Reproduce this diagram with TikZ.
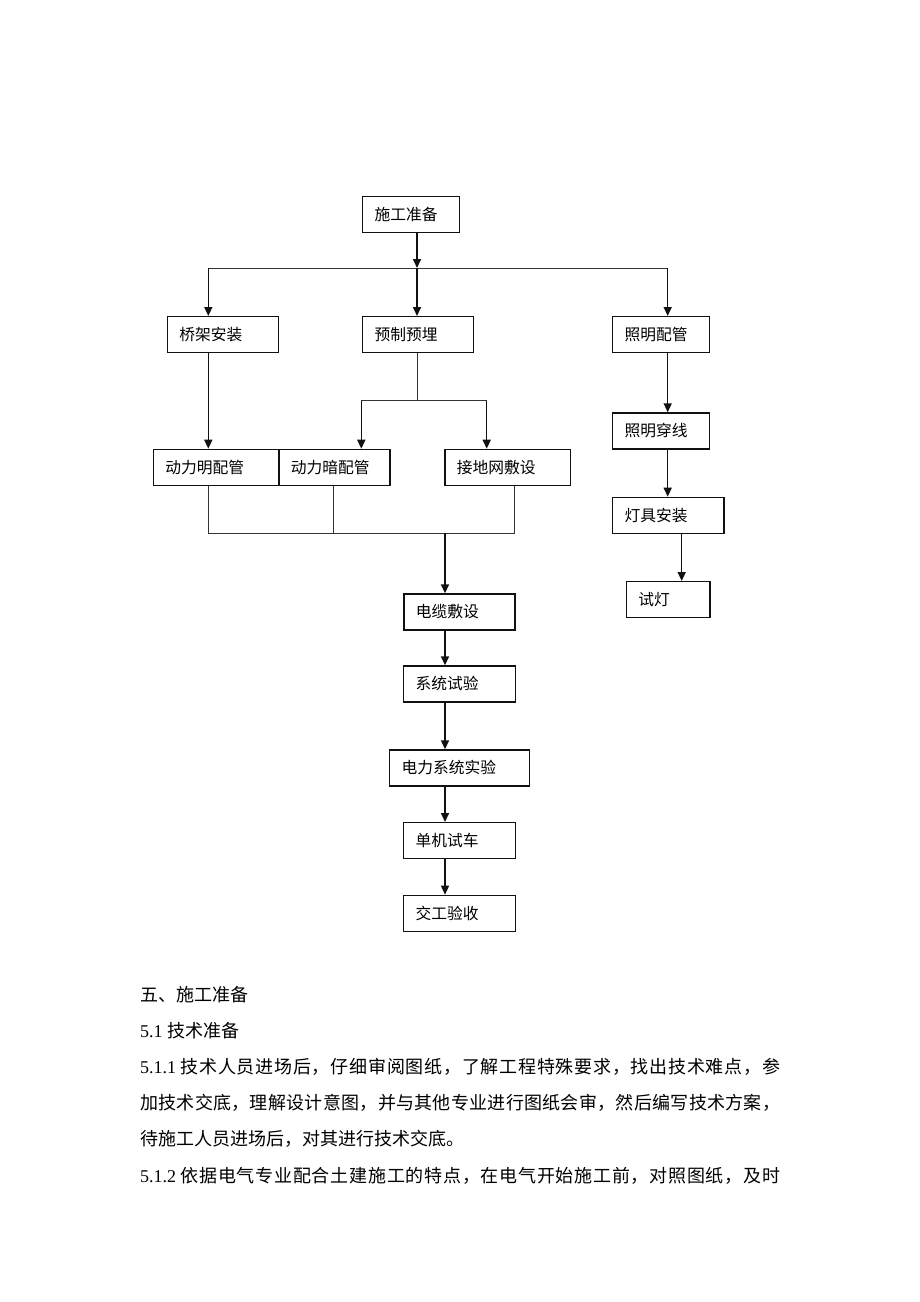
\documentclass[tikz,border=0pt]{standalone}
\usepackage{fontspec}
\usepackage{xcolor}
\usepackage{tikz}
\usetikzlibrary{arrows.meta}
\setmainfont{Liberation Serif}
\newfontfamily\cjk{Noto Sans CJK SC}
\definecolor{ink}{HTML}{111111}
\definecolor{wire}{HTML}{333333}
\newcommand{\boxfont}{\cjk\fontsize{15.75}{18}\selectfont}
\newcommand{\bodyfont}{\cjk\fontsize{18}{22}\selectfont}
\newcommand{\lat}[1]{{\rmfamily #1}}
\tikzset{
  stepbox/.style={draw=ink, line width=1.2pt, minimum height=36pt, inner xsep=12pt,
    inner ysep=0pt, align=left, anchor=north west, font=\boxfont},
  flow/.style={-{Triangle[length=9pt,width=8pt]}, line width=1.5pt, draw=ink},
  link/.style={line width=1pt, draw=wire},
  para/.style={anchor=base west, inner sep=0pt, font=\bodyfont}
}
\makeatletter
\def\SpreadChars#1{\SpreadFirst#1\relax}
\def\SpreadFirst#1{#1\SpreadRest}
\def\SpreadRest#1{\ifx\relax#1\else\hskip 0pt plus 1fil\relax#1\expandafter\SpreadRest\fi}
\makeatother
\newcommand{\JustLine}[2]{\makebox[640pt][s]{#1\SpreadChars{#2}}}% full-width line

\begin{document}
\begin{tikzpicture}[x=1pt,y=-1pt]
  \useasboundingbox (0,0) rectangle (920,1302);
  % boxes
  \node[stepbox, text width=73pt]    (prep)      at (362,196)   {施工准备};
  \node[stepbox, text width=87.3pt]  (bridge)    at (166.7,316) {桥架安装};
  \node[stepbox, text width=87pt]    (embed)     at (362,316)   {预制预埋};
  \node[stepbox, text width=73pt]    (lightpipe) at (612,316)   {照明配管};
  \node[stepbox, text width=101.6pt] (exposed)   at (152.7,448.7) {动力明配管};
  \node[stepbox, text width=87pt]    (concealed) at (278.3,448.7) {动力暗配管};
  \node[stepbox, text width=101.7pt] (ground)    at (444.3,448.7) {接地网敷设};
  \node[stepbox, text width=73pt]    (wiring)    at (612,412.3) {照明穿线};
  \node[stepbox, text width=87.3pt]  (lamp)      at (612,496.7) {灯具安装};
  \node[stepbox, text width=59.6pt]  (test)      at (625.7,581) {试灯};
  \node[stepbox, text width=87pt]    (cable)     at (403.3,593.3) {电缆敷设};
  \node[stepbox, text width=87.7pt]  (systest)   at (403,665.3) {系统试验};
  \node[stepbox, text width=115.7pt] (power)     at (389,749.3) {电力系统实验};
  \node[stepbox, text width=87.7pt]  (single)    at (403,822)   {单机试车};
  \node[stepbox, text width=87.7pt]  (handover)  at (403,894.7) {交工验收};

  % junction points
  \coordinate (busL) at (208.3,268);
  \coordinate (busM) at (417,268);
  \coordinate (busR) at (667.7,268);
  \coordinate (embM) at (417,400.7);
  \coordinate (embL) at (361.3,400.7);
  \coordinate (embR) at (486.7,400.7);
  \coordinate (mrgL) at (208.3,533);
  \coordinate (mrgM) at (333.3,533);
  \coordinate (mrgR) at (514.3,533);
  \coordinate (mrgC) at (445,533);
  \coordinate (lampx) at (681.7,533);

  \draw[flow] (prep.south -| busM) -- (busM);
  \draw[link] (busL) -- (busR);
  \draw[flow] (busL) -- (bridge.north -| busL);
  \draw[flow] (busM) -- (embed.north -| busM);
  \draw[flow] (busR) -- (lightpipe.north -| busR);

  \draw[flow] (bridge.south -| busL) -- (exposed.north -| busL);
  \draw[link] (embed.south -| embM) -- (embM);
  \draw[link] (embL) -- (embR);
  \draw[flow] (embL) -- (concealed.north -| embL);
  \draw[flow] (embR) -- (ground.north -| embR);

  \draw[flow] (lightpipe.south -| busR) -- (wiring.north -| busR);
  \draw[flow] (wiring.south -| busR) -- (lamp.north -| busR);
  \draw[flow] (lamp.south -| lampx) -- (test.north -| lampx);

  \draw[link] (exposed.south -| mrgL) -- (mrgL) -- (mrgR) -- (ground.south -| mrgR);
  \draw[link] (concealed.south -| mrgM) -- (mrgM);
  \draw[flow] (mrgC) -- (cable.north -| mrgC);
  \draw[flow] (cable.south -| mrgC) -- (systest.north -| mrgC);
  \draw[flow] (systest.south -| mrgC) -- (power.north -| mrgC);
  \draw[flow] (power.south -| mrgC) -- (single.north -| mrgC);
  \draw[flow] (single.south -| mrgC) -- (handover.north -| mrgC);

  % text below the chart
  \node[para] (sec5)   at (140,1001)   {五、施工准备};
  \node[para] (sec51)  at (140,1037.3) {\lat{5.1 }技术准备};
  \node[para] (p511a)  at (140,1073.5) {\JustLine{\lat{5.1.1 }}{技术人员进场后，仔细审阅图纸，了解工程特殊要求，找出技术难点，参}};
  \node[para] (p511b)  at (140,1109.7) {\JustLine{}{加技术交底，理解设计意图，并与其他专业进行图纸会审，然后编写技术方案，}};
  \node[para] (p511c)  at (140,1145.9) {待施工人员进场后，对其进行技术交底。};
  \node[para] (p512a)  at (140,1182)   {\JustLine{\lat{5.1.2 }}{依据电气专业配合土建施工的特点，在电气开始施工前，对照图纸，及时}};
\end{tikzpicture}
\end{document}
